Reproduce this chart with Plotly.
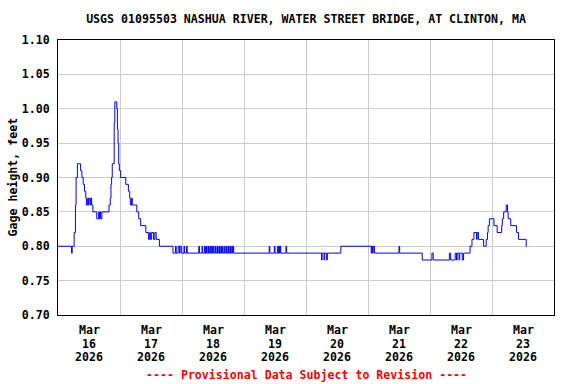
import plotly.graph_objects as go

title_text = "USGS 01095503 NASHUA RIVER, WATER STREET BRIDGE, AT CLINTON, MA"
y_label = "Gage height, feet"
footer_text = "---- Provisional Data Subject to Revision ----"

times = [
    "2026-03-16 00:00", "2026-03-16 05:15", "2026-03-16 05:30", "2026-03-16 06:15",
    "2026-03-16 06:45", "2026-03-16 07:00", "2026-03-16 07:30", "2026-03-16 08:45",
    "2026-03-16 09:15", "2026-03-16 09:45", "2026-03-16 10:15", "2026-03-16 10:45",
    "2026-03-16 11:00", "2026-03-16 11:30", "2026-03-16 11:45", "2026-03-16 12:00",
    "2026-03-16 12:30", "2026-03-16 12:45", "2026-03-16 13:00", "2026-03-16 13:30",
    "2026-03-16 15:00", "2026-03-16 15:45", "2026-03-16 16:00", "2026-03-16 16:15",
    "2026-03-16 16:30", "2026-03-16 17:00", "2026-03-16 19:45", "2026-03-16 20:15",
    "2026-03-16 20:30", "2026-03-16 20:45", "2026-03-16 21:00", "2026-03-16 21:45",
    "2026-03-16 22:00", "2026-03-16 22:45", "2026-03-16 23:00", "2026-03-16 23:15",
    "2026-03-16 23:30", "2026-03-16 23:45",
    "2026-03-17 00:15", "2026-03-17 02:15", "2026-03-17 03:15", "2026-03-17 03:45",
    "2026-03-17 04:00", "2026-03-17 04:30", "2026-03-17 04:45", "2026-03-17 06:30",
    "2026-03-17 07:15", "2026-03-17 08:00", "2026-03-17 10:00", "2026-03-17 11:00",
    "2026-03-17 11:30", "2026-03-17 11:45", "2026-03-17 12:15", "2026-03-17 13:00",
    "2026-03-17 13:30", "2026-03-17 14:00", "2026-03-17 15:15", "2026-03-17 20:30",
    "2026-03-17 21:30", "2026-03-17 21:45", "2026-03-17 22:30", "2026-03-17 23:00",
    "2026-03-17 23:15", "2026-03-17 23:45",
    "2026-03-18 00:45", "2026-03-18 01:00", "2026-03-18 01:45", "2026-03-18 02:00",
    "2026-03-18 06:30", "2026-03-18 06:45", "2026-03-18 07:45", "2026-03-18 08:00",
    "2026-03-18 08:45", "2026-03-18 09:00", "2026-03-18 09:15", "2026-03-18 09:30",
    "2026-03-18 10:00", "2026-03-18 10:15", "2026-03-18 10:45", "2026-03-18 11:00",
    "2026-03-18 11:30", "2026-03-18 11:45", "2026-03-18 12:00", "2026-03-18 12:15",
    "2026-03-18 12:45", "2026-03-18 13:00", "2026-03-18 13:30", "2026-03-18 13:45",
    "2026-03-18 14:15", "2026-03-18 14:30", "2026-03-18 15:00", "2026-03-18 15:15",
    "2026-03-18 15:30", "2026-03-18 15:45", "2026-03-18 16:15", "2026-03-18 16:30",
    "2026-03-18 17:00", "2026-03-18 17:15", "2026-03-18 17:45", "2026-03-18 18:00",
    "2026-03-18 18:30", "2026-03-18 18:45", "2026-03-18 19:15", "2026-03-18 19:30",
    "2026-03-18 19:45", "2026-03-18 20:00",
    "2026-03-19 09:45", "2026-03-19 10:00", "2026-03-19 11:45", "2026-03-19 12:00",
    "2026-03-19 13:00", "2026-03-19 13:15", "2026-03-19 13:30", "2026-03-19 13:45",
    "2026-03-19 14:00", "2026-03-19 14:15", "2026-03-19 16:15", "2026-03-19 16:30",
    "2026-03-20 06:00", "2026-03-20 06:15", "2026-03-20 07:00", "2026-03-20 07:15",
    "2026-03-20 08:00", "2026-03-20 08:15", "2026-03-20 13:30",
    "2026-03-21 01:15", "2026-03-21 01:30", "2026-03-21 01:45", "2026-03-21 02:00",
    "2026-03-21 02:30", "2026-03-21 12:00", "2026-03-21 12:15", "2026-03-21 21:00",
    "2026-03-22 00:45", "2026-03-22 01:15", "2026-03-22 07:30", "2026-03-22 08:00",
    "2026-03-22 09:45", "2026-03-22 10:15", "2026-03-22 10:30", "2026-03-22 11:15",
    "2026-03-22 11:30", "2026-03-22 12:30", "2026-03-22 13:00", "2026-03-22 15:30",
    "2026-03-22 16:15", "2026-03-22 17:00", "2026-03-22 18:00", "2026-03-22 18:15",
    "2026-03-22 18:45", "2026-03-22 20:45", "2026-03-22 21:45", "2026-03-22 22:15",
    "2026-03-22 22:30", "2026-03-22 23:00",
    "2026-03-23 00:45", "2026-03-23 02:00", "2026-03-23 03:45", "2026-03-23 04:00",
    "2026-03-23 04:30", "2026-03-23 05:30", "2026-03-23 06:00", "2026-03-23 06:15",
    "2026-03-23 07:15", "2026-03-23 09:30", "2026-03-23 10:15", "2026-03-23 13:15",
    "2026-03-23 13:30",
]

gage_height = [
    0.80, 0.79, 0.80, 0.82,
    0.86, 0.90, 0.92, 0.91,
    0.90, 0.89, 0.88, 0.87,
    0.86, 0.87, 0.86, 0.87,
    0.86, 0.87, 0.86, 0.85,
    0.84, 0.85, 0.84, 0.85,
    0.84, 0.85, 0.86, 0.87,
    0.89, 0.90, 0.92, 0.98,
    1.01, 1.00, 0.97, 0.95,
    0.92, 0.91,
    0.90, 0.89, 0.88, 0.87,
    0.86, 0.87, 0.86, 0.85,
    0.84, 0.83, 0.82, 0.81,
    0.82, 0.81, 0.82, 0.81,
    0.82, 0.81, 0.80, 0.79,
    0.80, 0.79, 0.80, 0.79,
    0.80, 0.79,
    0.80, 0.79, 0.80, 0.79,
    0.80, 0.79, 0.80, 0.79,
    0.80, 0.79, 0.80, 0.79,
    0.80, 0.79, 0.80, 0.79,
    0.80, 0.79, 0.80, 0.79,
    0.80, 0.79, 0.80, 0.79,
    0.80, 0.79, 0.80, 0.79,
    0.80, 0.79, 0.80, 0.79,
    0.80, 0.79, 0.80, 0.79,
    0.80, 0.79, 0.80, 0.79,
    0.80, 0.79,
    0.80, 0.79, 0.80, 0.79,
    0.80, 0.79, 0.80, 0.79,
    0.80, 0.79, 0.80, 0.79,
    0.78, 0.79, 0.78, 0.79,
    0.78, 0.79, 0.80,
    0.79, 0.80, 0.79, 0.80,
    0.79, 0.80, 0.79, 0.78,
    0.79, 0.78, 0.79, 0.78,
    0.79, 0.78, 0.79, 0.78,
    0.79, 0.78, 0.79, 0.80,
    0.81, 0.82, 0.81, 0.82,
    0.81, 0.80, 0.81, 0.82,
    0.83, 0.84,
    0.83, 0.82, 0.83, 0.84,
    0.85, 0.86, 0.85, 0.84,
    0.83, 0.82, 0.81, 0.80,
    0.80,
]

x_label_days = ["2026-03-16 12:00", "2026-03-17 12:00", "2026-03-18 12:00", "2026-03-19 12:00",
                "2026-03-20 12:00", "2026-03-21 12:00", "2026-03-22 12:00", "2026-03-23 12:00"]
x_label_month = ["Mar"] * 8
x_label_daynum = ["16", "17", "18", "19", "20", "21", "22", "23"]
x_label_year = ["2026"] * 8
y_ticks = [0.70, 0.75, 0.80, 0.85, 0.90, 0.95, 1.00, 1.05, 1.10]

FONT = "DejaVu Sans Mono"
FS = 11.6

fig = go.Figure()
fig.add_trace(go.Scatter(
    x=times, y=gage_height, mode="lines", line_shape="hv",
    line=dict(color="#0000ff", width=1), showlegend=False, hoverinfo="skip",
))

annotations = [
    dict(text=y_label, xref="paper", yref="paper", x=(12 - 58) / 496, y=0.5,
         xanchor="center", yanchor="middle", textangle=-90, showarrow=False,
         font=dict(family=FONT, size=FS, color="black", weight="bold")),
    dict(text=footer_text, xref="paper", yref="paper", x=0.5, y=0, yshift=-60,
         xanchor="center", yanchor="middle", showarrow=False,
         font=dict(family=FONT, size=FS, color="#ff0000", weight="bold")),
]
for row, shift in ((x_label_month, -15), (x_label_daynum, -28.7), (x_label_year, -42.4)):
    for xd, txt in zip(x_label_days, row):
        annotations.append(dict(
            text=txt, xref="x", yref="paper", x=xd, y=0, yshift=shift,
            xanchor="center", yanchor="middle", showarrow=False,
            font=dict(family=FONT, size=FS, color="black", weight="bold")))

fig.update_layout(
    width=576, height=384,
    margin=dict(l=58, r=22, t=40, b=69, autoexpand=False),
    paper_bgcolor="white", plot_bgcolor="white",
    font=dict(family=FONT, size=FS, color="black", weight="bold"),
    title=dict(text=title_text, x=306 / 576, xanchor="center", xref="container",
               y=1 - 19 / 384, yanchor="middle", yref="container",
               font=dict(family=FONT, size=FS, color="black", weight="bold")),
    xaxis=dict(
        type="date", range=["2026-03-16 00:00", "2026-03-24 00:00"],
        tickmode="array", tickvals=x_label_days, showticklabels=False,
        showgrid=False, ticks="", automargin=False,
        showline=True, linecolor="black", linewidth=1, mirror=True,
        minor=dict(tick0="2026-03-16", dtick=86400000, showgrid=True,
                   gridcolor="#cccccc", gridwidth=1, ticks=""),
        zeroline=False,
    ),
    yaxis=dict(
        range=[0.70, 1.10], tickmode="array", tickvals=y_ticks,
        tickformat=".2f", showgrid=True, gridcolor="#cccccc", gridwidth=1,
        ticks="", ticklabelstandoff=5, automargin=False,
        showline=True, linecolor="black", linewidth=1, mirror=True,
        zeroline=False,
    ),
    annotations=annotations,
)

fig.write_html("out.html", config={"displayModeBar": False},
               post_script="document.body.style.margin='0';document.body.style.padding='0';")
